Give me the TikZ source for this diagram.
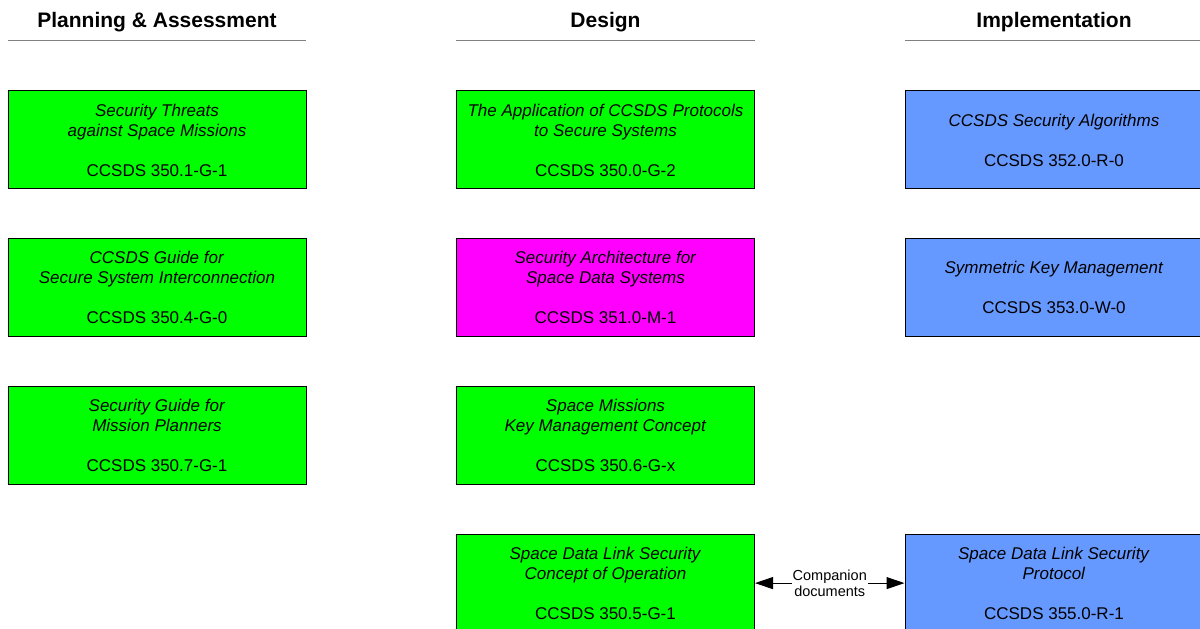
\documentclass[tikz,border=0pt]{standalone}
\usepackage{fontspec}
\setmainfont{Liberation Sans}
\usetikzlibrary{positioning,arrows.meta}
\definecolor{docgreen}{HTML}{00FF00}
\definecolor{docmagenta}{HTML}{FF00FF}
\definecolor{docblue}{HTML}{6699FF}
\definecolor{rulegray}{HTML}{808080}

\begin{document}
\begin{tikzpicture} [x=1pt, y=1pt, node distance=48.7pt and 149.5pt,
  doc/.style={rectangle, draw, line width=1pt, minimum width=298pt, minimum height=98pt,
    inner sep=0pt, align=center, font=\fontsize{17}{20}\selectfont},
  head/.style={minimum width=298pt, minimum height=40pt, inner sep=0pt,
    text height=15pt, text depth=0pt, font=\fontsize{21}{24}\selectfont\bfseries},
  rule/.style={draw=rulegray, line width=1.5pt}]
\useasboundingbox (0,0) rectangle (1200,629);
\clip (0,0) rectangle (1200,629);

% planning & assessment
\node [doc, fill=docgreen] (threats) at (157,489)
  {\textit{Security Threats}\\\textit{against Space Missions}\\[20pt]CCSDS 350.1-G-1};
\node [doc, fill=docgreen, below=of threats] (interconn)
  {\textit{CCSDS Guide for}\\\textit{Secure System Interconnection}\\[20pt]CCSDS 350.4-G-0};
\node [doc, fill=docgreen, below=of interconn] (planners)
  {\textit{Security Guide for}\\\textit{Mission Planners}\\[20pt]CCSDS 350.7-G-1};

% design
\node [doc, fill=docgreen, right=of threats] (protocols)
  {\textit{The Application of CCSDS Protocols}\\\textit{to Secure Systems}\\[20pt]CCSDS 350.0-G-2};
\node [doc, fill=docmagenta, below=of protocols] (arch)
  {\textit{Security Architecture for}\\\textit{Space Data Systems}\\[20pt]CCSDS 351.0-M-1};
\node [doc, fill=docgreen, below=of arch] (keyconcept)
  {\textit{Space Missions}\\\textit{Key Management Concept}\\[20pt]CCSDS 350.6-G-x};
\node [doc, fill=docgreen, below=of keyconcept] (conop)
  {\textit{Space Data Link Security}\\\textit{Concept of Operation}\\[20pt]CCSDS 350.5-G-1};

% implementation
\node [doc, fill=docblue, right=of protocols] (algos)
  {\textit{CCSDS Security Algorithms}\\[20pt]CCSDS 352.0-R-0};
\node [doc, fill=docblue, right=of arch] (symkey)
  {\textit{Symmetric Key Management}\\[20pt]CCSDS 353.0-W-0};
\node [doc, fill=docblue, right=of conop] (sdlsp)
  {\textit{Space Data Link Security}\\\textit{Protocol}\\[20pt]CCSDS 355.0-R-1};

% column headings
\node [head, above=50pt of threats] (hplan) {Planning \& Assessment};
\node [head, above=50pt of protocols] (hdesign) {Design};
\node [head, above=50pt of algos] (himpl) {Implementation};
\draw [rule] (hplan.south west) -- (hplan.south east);
\draw [rule] (hdesign.south west) -- (hdesign.south east);
\draw [rule] (himpl.south west) -- (himpl.south east);

\draw [{Triangle[length=18pt,width=12pt]}-{Triangle[length=18pt,width=12pt]}, line width=1pt]
  (conop) -- node [fill=white, inner sep=1pt, align=center, font=\fontsize{14.5}{16}\selectfont]
  (companion) {Companion\\documents} (sdlsp);
\end{tikzpicture}
\end{document}
